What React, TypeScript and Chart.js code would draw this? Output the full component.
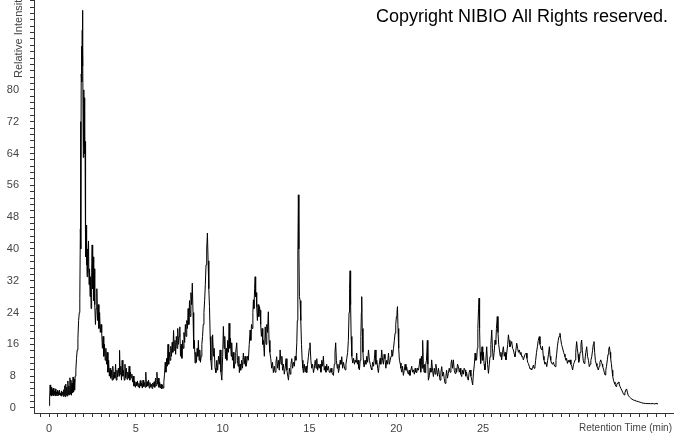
import React, { useEffect, useRef } from "react";
import { Chart, registerables } from "chart.js";

Chart.register(...registerables);

// ---- Data: [retention time (min), relative intensity] ----
const startSegment: [number, number][] = [
  [0.00, 0.6], [0.03, 2.5], [0.06, 5.8], [0.09, 3.2], [0.12, 5.2], [0.15, 3.0], [0.18, 4.6], [0.21, 3.3],
  [0.24, 5.0], [0.27, 3.1], [0.30, 4.2], [0.33, 3.4], [0.36, 4.8], [0.39, 3.0], [0.42, 4.0], [0.45, 3.5],
  [0.48, 4.4], [0.51, 3.1], [0.54, 3.9], [0.57, 3.3], [0.60, 4.5], [0.63, 3.2], [0.66, 3.8], [0.69, 3.0],
  [0.72, 4.3], [0.75, 3.4], [0.78, 4.0], [0.81, 2.9], [0.84, 4.6], [0.87, 3.1], [0.90, 5.6], [0.93, 2.8],
  [0.96, 6.0], [0.99, 3.2], [1.02, 5.2], [1.05, 3.0], [1.08, 6.8], [1.11, 3.4], [1.14, 5.5], [1.17, 3.3],
  [1.20, 7.6], [1.23, 3.5], [1.26, 7.0], [1.29, 3.2], [1.32, 6.2], [1.35, 3.8], [1.38, 7.8], [1.41, 4.0],
  [1.44, 7.2], [1.47, 4.5], [1.50, 8.0], [1.54, 9.5], [1.58, 12.5], [1.62, 14.6], [1.66, 17.5], [1.70, 22],
  [1.74, 24], [1.77, 27.5],
];

const mainPeak: [number, number][] = [
  [1.80, 45], [1.82, 72], [1.83, 40], [1.85, 84], [1.87, 91], [1.89, 82], [1.91, 95], [1.92, 100],
  [1.93, 86], [1.95, 91], [1.97, 63], [1.99, 80], [2.01, 66], [2.03, 78], [2.05, 64], [2.07, 67],
  [2.09, 47], [2.11, 38], [2.13, 46], [2.15, 36], [2.17, 42], [2.19, 33], [2.21, 40], [2.24, 34],
  [2.27, 42], [2.30, 31], [2.33, 35], [2.36, 28], [2.39, 33], [2.42, 25], [2.45, 34], [2.48, 41],
  [2.51, 30], [2.54, 38], [2.57, 27], [2.60, 35], [2.63, 26], [2.67, 21], [2.71, 25], [2.75, 30],
  [2.79, 22], [2.83, 26], [2.87, 20], [2.91, 24], [2.95, 19], [2.99, 21], [3.03, 19], [3.07, 15],
  [3.11, 18], [3.15, 13], [3.19, 16], [3.23, 12], [3.27, 15], [3.31, 11], [3.35, 14], [3.39, 9],
  [3.43, 12], [3.47, 8], [3.51, 10], [3.55, 7.5],
];

const valleySegment: [number, number][] = [
  [3.59, 9.5], [3.63, 7], [3.67, 10.5], [3.71, 7.2], [3.75, 9], [3.79, 7.5], [3.83, 11], [3.87, 7],
  [3.91, 9.5], [3.95, 7.8], [3.99, 10], [4.03, 8], [4.06, 14.5], [4.09, 8.5], [4.13, 10.5], [4.17, 7],
  [4.21, 12], [4.25, 8], [4.29, 9.5], [4.33, 7], [4.37, 11], [4.41, 7.5], [4.45, 10], [4.49, 7.2],
  [4.53, 9], [4.57, 7.5], [4.61, 10.5], [4.65, 7], [4.69, 9], [4.73, 7.6], [4.77, 8.5], [4.81, 6.5],
  [4.85, 8], [4.89, 5.5], [4.93, 6.8], [4.97, 5.2], [5.01, 6.5], [5.05, 5.6], [5.09, 6.8], [5.13, 5.3],
  [5.17, 6.2], [5.21, 5.0], [5.25, 6.9], [5.29, 5.5], [5.33, 6.3], [5.37, 5.0], [5.41, 7.0], [5.45, 5.4],
  [5.49, 6.4], [5.53, 5.2], [5.57, 9.0], [5.61, 5.3], [5.65, 6.6], [5.69, 5.5], [5.73, 7.0], [5.77, 5.0],
  [5.81, 6.4], [5.85, 5.3], [5.89, 6.0], [5.93, 4.9], [5.97, 6.3], [6.01, 5.4], [6.05, 6.6], [6.09, 5.2],
  [6.13, 7.5], [6.17, 5.6], [6.21, 9.0], [6.25, 6.0], [6.29, 7.5], [6.33, 5.2], [6.37, 6.5], [6.41, 5.0],
  [6.45, 6.0], [6.49, 4.8], [6.53, 5.8], [6.57, 5.0], [6.61, 6.5], [6.65, 8.5],
];

const midSegment: [number, number][] = [
  [6.69, 11.5], [6.73, 9], [6.77, 12.5], [6.81, 10.5], [6.85, 16], [6.89, 11], [6.93, 14], [6.97, 12],
  [7.01, 15.5], [7.05, 13], [7.09, 16.5], [7.13, 14], [7.17, 19.5], [7.21, 14.5], [7.25, 17], [7.29, 13.5],
  [7.33, 18], [7.37, 15], [7.41, 20], [7.45, 16], [7.49, 18], [7.53, 20.4], [7.57, 13], [7.61, 16],
  [7.65, 12.5], [7.69, 17], [7.73, 15], [7.77, 19], [7.81, 16.5], [7.85, 21], [7.89, 18], [7.93, 22],
  [7.97, 20], [8.01, 25], [8.05, 21], [8.09, 27], [8.13, 23], [8.17, 29], [8.21, 26], [8.25, 31.4],
  [8.29, 24], [8.33, 15], [8.37, 17], [8.41, 11.3], [8.45, 14], [8.49, 11.5], [8.53, 15], [8.57, 13],
  [8.60, 17], [8.64, 12], [8.68, 14.6], [8.72, 11.5], [8.76, 13], [8.80, 16], [8.84, 18], [8.88, 21],
  [8.92, 24], [8.96, 27], [9.00, 31], [9.04, 36], [9.08, 40], [9.12, 44], [9.16, 37], [9.20, 30],
  [9.24, 25.5], [9.28, 18], [9.32, 12], [9.37, 9.6],
  [9.42, 18.4], [9.47, 13], [9.51, 15], [9.56, 10], [9.61, 8.9], [9.66, 12], [9.71, 9.5], [9.76, 13],
  [9.81, 11], [9.85, 14.6], [9.90, 9], [9.95, 7], [10.00, 13], [10.04, 20.5], [10.08, 15], [10.12, 18],
  [10.16, 12.4], [10.20, 15], [10.24, 12], [10.29, 17], [10.33, 14], [10.37, 21.3], [10.41, 15], [10.45, 17.5],
  [10.49, 13], [10.52, 16.4], [10.56, 12], [10.61, 14], [10.65, 10], [10.71, 11.3], [10.75, 14], [10.81, 16.4],
  [10.85, 12], [10.89, 10.5], [10.93, 13], [10.96, 8.9], [11.00, 11], [11.04, 9.5], [11.09, 12], [11.14, 10],
  [11.19, 13.8], [11.24, 11], [11.29, 13], [11.34, 10.5], [11.39, 11.5], [11.43, 13], [11.48, 12], [11.53, 16],
  [11.58, 19.6], [11.62, 17], [11.66, 21], [11.70, 20], [11.74, 24], [11.77, 27.2], [11.80, 25], [11.84, 30],
  [11.87, 33], [11.90, 28], [11.93, 29], [11.96, 25.5], [12.00, 22], [12.04, 26], [12.08, 23], [12.12, 25.5],
  [12.15, 24.6], [12.19, 21], [12.23, 18], [12.27, 20], [12.31, 16], [12.35, 17], [12.40, 13], [12.45, 20.4],
  [12.50, 16], [12.54, 21], [12.58, 19], [12.63, 24.2], [12.67, 17], [12.72, 14], [12.77, 12.4], [12.82, 10],
  [12.87, 11.5], [12.92, 8.9], [12.97, 10.5], [13.02, 9], [13.07, 11.5], [13.11, 12.9], [13.16, 10], [13.21, 12],
  [13.26, 9.5], [13.31, 14.6], [13.36, 11], [13.41, 13], [13.45, 9.5], [13.50, 11], [13.55, 8.5], [13.60, 10],
  [13.65, 12.4], [13.70, 9.5], [13.75, 8], [13.79, 7], [13.84, 10], [13.89, 8.5], [13.93, 11], [13.98, 12.4],
  [14.03, 10], [14.08, 11.5], [14.13, 10.5], [14.17, 13], [14.22, 12], [14.27, 16.4], [14.30, 22], [14.33, 38],
  [14.36, 53.6], [14.39, 40], [14.42, 28], [14.46, 27], [14.50, 22], [14.54, 16], [14.58, 12], [14.62, 10],
  [14.65, 8.9],
];

const lateSegment: [number, number][] = [
  [14.70, 11], [14.75, 9], [14.80, 10.5], [14.84, 8.9], [14.89, 11], [14.94, 13], [14.99, 15], [15.03, 16.4],
  [15.08, 12], [15.13, 10], [15.18, 11], [15.23, 8.9], [15.28, 10], [15.33, 12], [15.38, 10], [15.42, 12.4],
  [15.47, 9.5], [15.52, 11], [15.56, 10], [15.61, 11], [15.66, 9], [15.71, 12], [15.76, 10.5], [15.80, 13],
  [15.85, 9.5], [15.90, 10.5], [15.95, 9], [15.99, 11], [16.04, 9.5], [16.09, 10.5], [16.14, 9], [16.19, 8.9],
  [16.24, 10], [16.29, 9], [16.33, 8.5], [16.38, 8.2], [16.43, 11], [16.47, 14], [16.51, 16.4], [16.55, 12],
  [16.60, 10], [16.64, 11], [16.67, 8.9], [16.72, 10], [16.77, 12], [16.81, 11], [16.86, 12.9], [16.91, 10],
  [16.96, 11.5], [17.00, 10.5], [17.05, 9.6], [17.10, 11], [17.15, 12.5], [17.20, 14], [17.24, 17], [17.28, 24],
  [17.31, 30], [17.34, 34.5], [17.37, 26], [17.40, 18], [17.44, 13], [17.49, 11.3], [17.54, 12.5], [17.59, 11],
  [17.63, 12], [17.68, 11.5], [17.72, 13.8], [17.76, 11], [17.80, 12], [17.84, 10], [17.88, 9.6], [17.92, 12],
  [17.96, 18], [17.99, 24], [18.01, 28], [18.04, 20], [18.08, 14], [18.12, 11], [18.15, 10.3], [18.20, 12],
  [18.25, 11], [18.30, 13], [18.35, 11.5], [18.40, 14.6], [18.45, 12], [18.50, 11], [18.55, 10], [18.59, 9.6],
  [18.64, 11.5], [18.69, 10.5], [18.74, 12.5], [18.78, 14.6], [18.83, 11], [18.88, 12], [18.93, 10], [18.97, 8.9],
  [19.02, 11], [19.07, 12.5], [19.11, 11], [19.16, 14.6], [19.21, 12], [19.26, 11], [19.30, 13.5], [19.35, 12.4],
  [19.40, 10], [19.45, 12], [19.50, 11], [19.55, 13.8], [19.60, 11], [19.65, 12], [19.70, 13], [19.74, 14.6],
  [19.79, 13], [19.84, 15], [19.89, 17], [19.93, 18.8], [19.97, 21], [20.01, 23], [20.04, 24], [20.07, 25.5],
  [20.10, 20], [20.14, 15], [20.18, 12], [20.22, 11.3], [20.27, 10], [20.32, 9], [20.36, 10.5], [20.41, 8.2],
  [20.46, 9.5], [20.51, 11], [20.56, 9.5], [20.60, 10.3], [20.65, 9], [20.70, 8.5], [20.74, 9.5], [20.79, 8.2],
  [20.84, 9.5], [20.89, 10.5], [20.94, 9], [20.99, 9.6], [21.04, 8.5], [21.09, 10], [21.13, 9], [21.18, 8.9],
  [21.23, 10], [21.28, 9.5], [21.33, 11], [21.37, 12.4], [21.41, 9], [21.45, 13], [21.49, 10], [21.52, 17],
  [21.56, 11], [21.60, 9], [21.64, 11], [21.66, 8.9], [21.70, 11], [21.74, 12], [21.79, 17], [21.82, 11],
  [21.85, 7], [21.91, 8.2],
  [21.95, 10], [22.00, 9], [22.04, 12.1], [22.09, 9.5], [22.14, 7.9], [22.19, 10], [22.24, 8.5], [22.28, 11],
  [22.33, 9.56], [22.38, 8], [22.43, 10], [22.48, 8.5], [22.52, 7.0], [22.57, 9], [22.62, 10.4], [22.67, 8],
  [22.72, 9], [22.76, 7.5], [22.81, 6.2], [22.86, 8], [22.90, 9.5], [22.95, 7.5], [23.00, 8.7], [23.05, 10],
  [23.10, 9], [23.15, 11], [23.19, 12.1], [23.24, 10], [23.29, 12.1], [23.34, 9.5], [23.39, 8.7], [23.44, 10],
  [23.48, 9], [23.53, 11], [23.58, 10.4], [23.63, 9], [23.68, 10], [23.72, 8.5], [23.77, 7.9], [23.82, 9.5],
  [23.86, 8.5], [23.91, 10], [23.96, 9.56], [24.00, 8], [24.05, 9], [24.10, 7.5], [24.15, 7.0], [24.20, 9],
  [24.25, 9.56], [24.30, 8], [24.35, 7], [24.40, 5.8], [24.45, 9], [24.50, 11], [24.54, 13.8], [24.58, 12],
  [24.63, 12.1], [24.67, 15], [24.70, 20], [24.74, 25], [24.77, 27.6], [24.80, 20], [24.83, 14], [24.86, 11.2],
];

const plateauSegment: [number, number][] = [
  [24.90, 13], [24.94, 15.4], [24.98, 12], [25.02, 14], [25.06, 11], [25.11, 9.56], [25.16, 12], [25.21, 15.4],
  [25.26, 11], [25.31, 8.7], [25.36, 11], [25.40, 12.9], [25.45, 16], [25.50, 19.6], [25.54, 15], [25.59, 12.1],
  [25.64, 14], [25.69, 17.1], [25.73, 16], [25.77, 20], [25.82, 23], [25.86, 19], [25.90, 16], [25.94, 14.6],
  [25.99, 13], [26.03, 14], [26.07, 12.1], [26.12, 14], [26.17, 15.4], [26.22, 13], [26.27, 14], [26.32, 12.1],
  [26.37, 14], [26.42, 16], [26.46, 18.4], [26.50, 17], [26.55, 15.4], [26.60, 16], [26.65, 16.7], [26.70, 15],
  [26.75, 14.6], [26.80, 13.5], [26.84, 12.9], [26.89, 14.5], [26.94, 16.3], [26.99, 15], [27.04, 14], [27.09, 14.6],
  [27.14, 13.5], [27.18, 14], [27.23, 12.9], [27.28, 13], [27.32, 12.1], [27.37, 12.8], [27.42, 13.5], [27.48, 13.8],
  [27.53, 12.5], [27.57, 11.5], [27.61, 11.2], [27.66, 10.5], [27.71, 9.8], [27.76, 10], [27.80, 9.56], [27.85, 10],
  [27.90, 10.8], [27.94, 10], [27.99, 10.4], [28.03, 12], [28.08, 14], [28.13, 15.4], [28.18, 17], [28.24, 17.95],
  [28.28, 16], [28.33, 15], [28.38, 14.6], [28.42, 15.5], [28.47, 13], [28.51, 12.1], [28.56, 11], [28.61, 11.5],
  [28.67, 10.4], [28.72, 12], [28.77, 13.5], [28.82, 15.4], [28.86, 13], [28.90, 12], [28.95, 11.2], [29.00, 11],
  [29.05, 11.5], [29.10, 10.8], [29.15, 10.4], [29.20, 12], [29.24, 13.5], [29.28, 15.4], [29.33, 17], [29.38, 18],
  [29.43, 18.8], [29.47, 17.5], [29.52, 16], [29.56, 15.4], [29.59, 15.4], [29.64, 14], [29.68, 13.5], [29.72, 12.9],
  [29.77, 12], [29.81, 12.5], [29.86, 11.2], [29.91, 12], [29.96, 11.5], [30.01, 12.1], [30.06, 11], [30.11, 10.5],
  [30.16, 9.56], [30.21, 11], [30.26, 11.5], [30.30, 12.1], [30.34, 14], [30.39, 16.7], [30.43, 15], [30.47, 13.5],
  [30.51, 11.5], [30.55, 12.1], [30.59, 14], [30.64, 16], [30.68, 17.1], [30.72, 14.5], [30.77, 12], [30.82, 11.2],
  [30.87, 12], [30.92, 14], [30.97, 15.4], [31.02, 13], [31.07, 12], [31.12, 10.4], [31.17, 11], [31.21, 12],
  [31.26, 12.9], [31.31, 14.5], [31.35, 16], [31.39, 16.7], [31.43, 14], [31.47, 12], [31.51, 11.2], [31.56, 10.5],
  [31.60, 10], [31.64, 9.56], [31.69, 10.5], [31.73, 11.5], [31.78, 12.1], [31.82, 11.5], [31.86, 11], [31.89, 10.4],
  [31.94, 9.8], [31.98, 9], [32.03, 8.3], [32.07, 9.5], [32.11, 10.5], [32.16, 12.1], [32.20, 13.5], [32.24, 14.8],
  [32.28, 15.4], [32.32, 14], [32.35, 12.5], [32.39, 11.2], [32.43, 9.5], [32.47, 8], [32.51, 7.0], [32.55, 6.5],
];

const tailSegment: [number, number][] = [
  [32.60, 6], [32.66, 5.4], [32.70, 5.8], [32.75, 6.3], [32.80, 6.5], [32.83, 6.2], [32.88, 5.5], [32.93, 5],
  [32.99, 4.5], [33.04, 4], [33.08, 3.6], [33.12, 3.3], [33.17, 3.8], [33.22, 4.5], [33.27, 4.8], [33.31, 4],
  [33.36, 3.2], [33.43, 2.8], [33.50, 2.5], [33.58, 2.2], [33.66, 2.0], [33.75, 1.9], [33.85, 1.7], [33.95, 1.6],
  [34.05, 1.45], [34.15, 1.3], [34.23, 1.2], [34.35, 1.15], [34.50, 1.1], [34.65, 1.1], [34.81, 1.1], [34.90, 1.0],
  [34.97, 1.2], [35.02, 1.0], [35.06, 1.0],
];

// ---- Axes ----
const xTickLabels = [0, 5, 10, 15, 20, 25];
const yTickLabels = [0, 8, 16, 24, 32, 40, 48, 56, 64, 72, 80];
const xMinorStep = 0.5;
const yMinorStep = 1.6;
const xRange: [number, number] = [-0.87, 36];
const yRange: [number, number] = [-1.26, 102.6];

const copyrightText = "Copyright NIBIO All Rights reserved.";
const xTitle = "Retention Time (min)";
const yTitle = "Relative Intensity";

const FONT = "'Liberation Sans', Arial, sans-serif";
const TEXT_COLOR = "#444";
const AXIS_COLOR = "#333";

function minorTicks(range: [number, number], step: number) {
  const out: { value: number }[] = [];
  const start = Math.ceil(range[0] / step - 1e-9);
  for (let i = start; i * step <= range[1] + 1e-9; i++) {
    out.push({ value: Math.round(i * step * 1000) / 1000 });
  }
  return out;
}

function labelFor(labels: number[], v: number) {
  return labels.some((l) => Math.abs(l - v) < 1e-6) ? String(Math.round(v)) : "";
}

const textPlugin = {
  id: "chromTexts",
  afterDraw(chart: any) {
    const ctx = chart.ctx as CanvasRenderingContext2D;
    const area = chart.chartArea;
    ctx.save();
    ctx.fillStyle = "#000";
    ctx.font = `18px ${FONT}`;
    ctx.textAlign = "right";
    ctx.textBaseline = "alphabetic";
    ctx.fillText(copyrightText, chart.width - 6, 22);

    ctx.fillStyle = TEXT_COLOR;
    ctx.font = `10px ${FONT}`;
    ctx.textAlign = "right";
    ctx.textBaseline = "middle";
    ctx.fillText(xTitle, chart.width - 2, area.bottom + 15);

    ctx.font = `11px ${FONT}`;
    ctx.translate(area.left - 12, 78);
    ctx.rotate(-Math.PI / 2);
    ctx.textAlign = "left";
    ctx.textBaseline = "alphabetic";
    ctx.fillText(yTitle, 0, 0);
    ctx.restore();
  },
};

export default function App() {
  const canvasRef = useRef<HTMLCanvasElement | null>(null);

  useEffect(() => {
    if (!canvasRef.current) return;
    const points = [
      ...startSegment,
      ...mainPeak,
      ...valleySegment,
      ...midSegment,
      ...lateSegment,
      ...plateauSegment,
      ...tailSegment,
    ].map(([x, y]) => ({ x, y }));

    const chart = new Chart(canvasRef.current, {
      type: "line",
      data: {
        datasets: [
          {
            data: points,
            borderColor: "#000",
            borderWidth: 1,
            pointRadius: 0,
            tension: 0,
            fill: false,
          },
        ],
      },
      options: {
        responsive: false,
        animation: false,
        devicePixelRatio: 1,
        layout: { padding: 0 },
        plugins: {
          legend: { display: false },
          tooltip: { enabled: false },
          title: { display: false },
        },
        scales: {
          x: {
            type: "linear",
            min: xRange[0],
            max: xRange[1],
            afterBuildTicks: (s: any) => {
              s.ticks = minorTicks(xRange, xMinorStep);
            },
            afterFit: (s: any) => {
              s.height = 21;
              s.paddingLeft = 0;
              s.paddingRight = 0;
            },
            ticks: {
              autoSkip: false,
              maxRotation: 0,
              minRotation: 0,
              padding: 5,
              color: TEXT_COLOR,
              font: { family: FONT, size: 11 },
              callback: (v: any) => labelFor(xTickLabels, Number(v)),
            },
            grid: {
              drawOnChartArea: false,
              drawTicks: true,
              tickLength: 4,
              tickColor: AXIS_COLOR,
            },
            border: { display: true, color: AXIS_COLOR, width: 1 },
          },
          y: {
            type: "linear",
            min: yRange[0],
            max: yRange[1],
            afterBuildTicks: (s: any) => {
              s.ticks = minorTicks(yRange, yMinorStep);
            },
            afterFit: (s: any) => {
              s.width = 34;
              s.paddingTop = 0;
              s.paddingBottom = 0;
            },
            ticks: {
              autoSkip: false,
              crossAlign: "center",
              padding: 11,
              color: TEXT_COLOR,
              font: { family: FONT, size: 11 },
              callback: (v: any) => labelFor(yTickLabels, Number(v)),
            },
            grid: {
              drawOnChartArea: false,
              drawTicks: true,
              tickLength: 4,
              tickColor: AXIS_COLOR,
            },
            border: { display: true, color: AXIS_COLOR, width: 1 },
          },
        },
      } as any,
      plugins: [textPlugin],
    });

    return () => chart.destroy();
  }, []);

  return (
    <div style={{ position: "fixed", left: 0, top: 0, width: 674, height: 434, background: "#fff" }}>
      <canvas ref={canvasRef} width={674} height={434} style={{ display: "block" }} />
    </div>
  );
}
